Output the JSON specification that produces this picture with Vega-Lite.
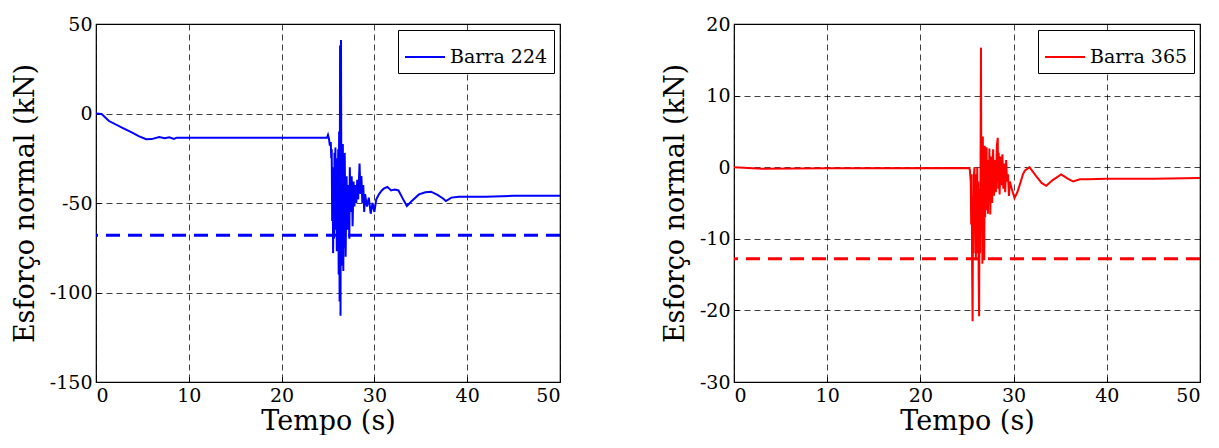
{
  "$schema": "https://vega.github.io/schema/vega-lite/v6.json",
  "background": "white",
  "padding": {"left": 10, "top": 14, "right": 0, "bottom": 0},
  "spacing": 97,
  "config": {
    "font": "DejaVu Serif",
    "locale": {"number": {"decimal": ".", "thousands": ",", "grouping": [3], "currency": ["$", ""], "minus": "-"}},
    "view": {"stroke": "black", "strokeWidth": 1.2},
    "axis": {
      "domain": false,
      "grid": true,
      "gridColor": "black",
      "gridDash": [6, 4],
      "gridOpacity": 0.75,
      "gridWidth": 1,
      "tickColor": "black",
      "tickSize": -5,
      "labelPadding": 9,
      "labelFont": "DejaVu Serif",
      "labelFontSize": 19,
      "labelColor": "black",
      "titleFont": "DejaVu Serif",
      "titleFontSize": 27,
      "titleFontWeight": "normal",
      "titleColor": "black"
    },
    "axisX": {"titlePadding": 3},
    "axisY": {"titlePadding": 10},
    "legend": {
      "orient": "top-right",
      "offset": 6,
      "strokeColor": "black",
      "fillColor": "white",
      "padding": 6,
      "cornerRadius": 0,
      "labelFont": "DejaVu Serif",
      "labelFontSize": 19,
      "labelColor": "black",
      "symbolType": "stroke",
      "symbolStrokeWidth": 2,
      "symbolSize": 1600,
      "title": null
    }
  },
  "datasets": {
    "blue": [
      {"t": 0, "v": 0, "s": "Barra 224"}, {"t": 0.6, "v": -0.3, "s": "Barra 224"}, {"t": 1.4, "v": -4.2, "s": "Barra 224"},
      {"t": 2.8, "v": -7.9, "s": "Barra 224"}, {"t": 3.9, "v": -10.7, "s": "Barra 224"}, {"t": 4.6, "v": -12.6, "s": "Barra 224"},
      {"t": 5.4, "v": -14.4, "s": "Barra 224"}, {"t": 6.0, "v": -14.3, "s": "Barra 224"}, {"t": 6.8, "v": -13.1, "s": "Barra 224"},
      {"t": 7.4, "v": -13.8, "s": "Barra 224"}, {"t": 7.9, "v": -13.3, "s": "Barra 224"}, {"t": 8.4, "v": -14.2, "s": "Barra 224"},
      {"t": 8.7, "v": -13.5, "s": "Barra 224"}, {"t": 24.9, "v": -13.5, "s": "Barra 224"}, {"t": 25.0, "v": -12, "s": "Barra 224"},
      {"t": 25.1, "v": -14, "s": "Barra 224"}, {"t": 25.2, "v": -18, "s": "Barra 224"}, {"t": 25.3, "v": -16, "s": "Barra 224"},
      {"t": 25.35, "v": -25, "s": "Barra 224"}, {"t": 25.4, "v": -20, "s": "Barra 224"}, {"t": 25.45, "v": -60, "s": "Barra 224"},
      {"t": 25.5, "v": -30, "s": "Barra 224"}, {"t": 25.55, "v": -78, "s": "Barra 224"}, {"t": 25.6, "v": -45, "s": "Barra 224"},
      {"t": 25.65, "v": -70, "s": "Barra 224"}, {"t": 25.7, "v": -22, "s": "Barra 224"}, {"t": 25.75, "v": -55, "s": "Barra 224"},
      {"t": 25.8, "v": -19, "s": "Barra 224"}, {"t": 25.85, "v": -65, "s": "Barra 224"}, {"t": 25.9, "v": -40, "s": "Barra 224"},
      {"t": 25.95, "v": -77, "s": "Barra 224"}, {"t": 26.0, "v": -25, "s": "Barra 224"}, {"t": 26.05, "v": -70, "s": "Barra 224"},
      {"t": 26.1, "v": -20, "s": "Barra 224"}, {"t": 26.15, "v": -90, "s": "Barra 224"}, {"t": 26.2, "v": -10, "s": "Barra 224"},
      {"t": 26.25, "v": -105, "s": "Barra 224"}, {"t": 26.3, "v": 38, "s": "Barra 224"}, {"t": 26.35, "v": -113, "s": "Barra 224"},
      {"t": 26.4, "v": 41, "s": "Barra 224"}, {"t": 26.45, "v": -60, "s": "Barra 224"}, {"t": 26.5, "v": -20, "s": "Barra 224"},
      {"t": 26.55, "v": -85, "s": "Barra 224"}, {"t": 26.6, "v": -17, "s": "Barra 224"}, {"t": 26.65, "v": -88, "s": "Barra 224"},
      {"t": 26.7, "v": -30, "s": "Barra 224"}, {"t": 26.75, "v": -75, "s": "Barra 224"}, {"t": 26.8, "v": -22, "s": "Barra 224"},
      {"t": 26.9, "v": -80, "s": "Barra 224"}, {"t": 27.0, "v": -35, "s": "Barra 224"}, {"t": 27.1, "v": -65, "s": "Barra 224"},
      {"t": 27.2, "v": -40, "s": "Barra 224"}, {"t": 27.3, "v": -70, "s": "Barra 224"}, {"t": 27.35, "v": -30, "s": "Barra 224"},
      {"t": 27.45, "v": -55, "s": "Barra 224"}, {"t": 27.55, "v": -35, "s": "Barra 224"}, {"t": 27.65, "v": -63, "s": "Barra 224"},
      {"t": 27.75, "v": -38, "s": "Barra 224"}, {"t": 27.85, "v": -52, "s": "Barra 224"}, {"t": 27.95, "v": -40, "s": "Barra 224"},
      {"t": 28.05, "v": -50, "s": "Barra 224"}, {"t": 28.15, "v": -37, "s": "Barra 224"}, {"t": 28.25, "v": -48, "s": "Barra 224"},
      {"t": 28.4, "v": -28, "s": "Barra 224"}, {"t": 28.5, "v": -45, "s": "Barra 224"}, {"t": 28.6, "v": -35, "s": "Barra 224"},
      {"t": 28.7, "v": -50, "s": "Barra 224"}, {"t": 28.8, "v": -40, "s": "Barra 224"}, {"t": 28.9, "v": -55, "s": "Barra 224"},
      {"t": 29.0, "v": -45, "s": "Barra 224"}, {"t": 29.2, "v": -52, "s": "Barra 224"}, {"t": 29.4, "v": -47, "s": "Barra 224"},
      {"t": 29.6, "v": -56, "s": "Barra 224"}, {"t": 29.8, "v": -50, "s": "Barra 224"}, {"t": 30.0, "v": -55, "s": "Barra 224"},
      {"t": 30.2, "v": -48, "s": "Barra 224"}, {"t": 30.5, "v": -45, "s": "Barra 224"}, {"t": 30.8, "v": -43, "s": "Barra 224"},
      {"t": 31.0, "v": -42, "s": "Barra 224"}, {"t": 31.4, "v": -41, "s": "Barra 224"}, {"t": 31.8, "v": -43, "s": "Barra 224"},
      {"t": 32.2, "v": -42.5, "s": "Barra 224"}, {"t": 32.6, "v": -43, "s": "Barra 224"}, {"t": 33.0, "v": -47, "s": "Barra 224"},
      {"t": 33.5, "v": -51.7, "s": "Barra 224"}, {"t": 34.0, "v": -49, "s": "Barra 224"}, {"t": 34.8, "v": -45.2, "s": "Barra 224"},
      {"t": 35.5, "v": -44, "s": "Barra 224"}, {"t": 36.1, "v": -43.7, "s": "Barra 224"}, {"t": 36.8, "v": -45.5, "s": "Barra 224"},
      {"t": 37.4, "v": -47.5, "s": "Barra 224"}, {"t": 37.7, "v": -48.9, "s": "Barra 224"}, {"t": 38.3, "v": -47, "s": "Barra 224"},
      {"t": 39.1, "v": -46.5, "s": "Barra 224"}, {"t": 40, "v": -46.5, "s": "Barra 224"}, {"t": 42, "v": -46.5, "s": "Barra 224"},
      {"t": 45, "v": -46, "s": "Barra 224"}, {"t": 48, "v": -46, "s": "Barra 224"}, {"t": 50, "v": -46, "s": "Barra 224"}
    ],
    "red": [
      {"t": 0, "v": 0, "s": "Barra 365"}, {"t": 3, "v": -0.2, "s": "Barra 365"}, {"t": 10, "v": -0.15, "s": "Barra 365"},
      {"t": 25.2, "v": -0.1, "s": "Barra 365"}, {"t": 25.3, "v": -0.3, "s": "Barra 365"}, {"t": 25.4, "v": -2, "s": "Barra 365"},
      {"t": 25.45, "v": -8, "s": "Barra 365"}, {"t": 25.5, "v": -1, "s": "Barra 365"}, {"t": 25.55, "v": -14, "s": "Barra 365"},
      {"t": 25.6, "v": -21.5, "s": "Barra 365"}, {"t": 25.65, "v": -4, "s": "Barra 365"}, {"t": 25.7, "v": -12, "s": "Barra 365"},
      {"t": 25.75, "v": -1, "s": "Barra 365"}, {"t": 25.8, "v": 0, "s": "Barra 365"}, {"t": 25.85, "v": -9, "s": "Barra 365"},
      {"t": 25.9, "v": -2, "s": "Barra 365"}, {"t": 25.95, "v": -13, "s": "Barra 365"}, {"t": 26.0, "v": -1, "s": "Barra 365"},
      {"t": 26.05, "v": -10, "s": "Barra 365"}, {"t": 26.1, "v": 0, "s": "Barra 365"}, {"t": 26.15, "v": -12, "s": "Barra 365"},
      {"t": 26.2, "v": -2, "s": "Barra 365"}, {"t": 26.25, "v": -15, "s": "Barra 365"}, {"t": 26.3, "v": -20.8, "s": "Barra 365"},
      {"t": 26.35, "v": -3, "s": "Barra 365"}, {"t": 26.4, "v": -12, "s": "Barra 365"}, {"t": 26.45, "v": -1, "s": "Barra 365"},
      {"t": 26.5, "v": 16.7, "s": "Barra 365"}, {"t": 26.55, "v": -8, "s": "Barra 365"}, {"t": 26.6, "v": -1, "s": "Barra 365"},
      {"t": 26.65, "v": -13.5, "s": "Barra 365"}, {"t": 26.7, "v": 4.3, "s": "Barra 365"}, {"t": 26.75, "v": -10, "s": "Barra 365"},
      {"t": 26.8, "v": 1, "s": "Barra 365"}, {"t": 26.85, "v": -13, "s": "Barra 365"}, {"t": 26.9, "v": 3, "s": "Barra 365"},
      {"t": 26.95, "v": -7, "s": "Barra 365"}, {"t": 27.0, "v": 1.5, "s": "Barra 365"}, {"t": 27.05, "v": -6, "s": "Barra 365"},
      {"t": 27.1, "v": 2.8, "s": "Barra 365"}, {"t": 27.15, "v": -5, "s": "Barra 365"}, {"t": 27.2, "v": 1, "s": "Barra 365"},
      {"t": 27.25, "v": -6.5, "s": "Barra 365"}, {"t": 27.3, "v": 0.5, "s": "Barra 365"}, {"t": 27.35, "v": -4.5, "s": "Barra 365"},
      {"t": 27.4, "v": 2.6, "s": "Barra 365"}, {"t": 27.5, "v": -6.6, "s": "Barra 365"}, {"t": 27.6, "v": 1.5, "s": "Barra 365"},
      {"t": 27.7, "v": -5, "s": "Barra 365"}, {"t": 27.8, "v": 2.5, "s": "Barra 365"}, {"t": 27.9, "v": -4, "s": "Barra 365"},
      {"t": 28.0, "v": 1, "s": "Barra 365"}, {"t": 28.1, "v": -3.5, "s": "Barra 365"}, {"t": 28.2, "v": 3, "s": "Barra 365"},
      {"t": 28.3, "v": 4.1, "s": "Barra 365"}, {"t": 28.35, "v": -3, "s": "Barra 365"}, {"t": 28.4, "v": 2, "s": "Barra 365"},
      {"t": 28.5, "v": -3.8, "s": "Barra 365"}, {"t": 28.6, "v": 1.5, "s": "Barra 365"}, {"t": 28.7, "v": -2.5, "s": "Barra 365"},
      {"t": 28.8, "v": 1.8, "s": "Barra 365"}, {"t": 28.9, "v": -3, "s": "Barra 365"}, {"t": 29.0, "v": 0.5, "s": "Barra 365"},
      {"t": 29.1, "v": -3.5, "s": "Barra 365"}, {"t": 29.2, "v": 1, "s": "Barra 365"}, {"t": 29.3, "v": -2, "s": "Barra 365"},
      {"t": 29.4, "v": -1, "s": "Barra 365"}, {"t": 29.5, "v": -4, "s": "Barra 365"}, {"t": 29.6, "v": -2, "s": "Barra 365"},
      {"t": 29.8, "v": -3, "s": "Barra 365"}, {"t": 30.1, "v": -4.3, "s": "Barra 365"}, {"t": 30.4, "v": -3.5, "s": "Barra 365"},
      {"t": 30.65, "v": -2.5, "s": "Barra 365"}, {"t": 31.0, "v": -1, "s": "Barra 365"}, {"t": 31.2, "v": -0.5, "s": "Barra 365"},
      {"t": 31.7, "v": 0, "s": "Barra 365"}, {"t": 32.0, "v": -0.5, "s": "Barra 365"}, {"t": 32.4, "v": -1.2, "s": "Barra 365"},
      {"t": 33.0, "v": -2.2, "s": "Barra 365"}, {"t": 33.5, "v": -2.6, "s": "Barra 365"}, {"t": 34.2, "v": -1.8, "s": "Barra 365"},
      {"t": 35.1, "v": -1, "s": "Barra 365"}, {"t": 35.8, "v": -1.6, "s": "Barra 365"}, {"t": 36.4, "v": -2, "s": "Barra 365"},
      {"t": 37.1, "v": -1.7, "s": "Barra 365"}, {"t": 38, "v": -1.7, "s": "Barra 365"}, {"t": 40, "v": -1.6, "s": "Barra 365"},
      {"t": 45, "v": -1.6, "s": "Barra 365"}, {"t": 50, "v": -1.5, "s": "Barra 365"}
    ]
  },
  "hconcat": [
    {
      "width": 464,
      "height": 358,
      "layer": [
        {
          "data": {"name": "blue"},
          "mark": {"type": "line", "strokeWidth": 2, "clip": true},
          "encoding": {
            "x": {"field": "t", "type": "quantitative", "title": "Tempo (s)", "scale": {"domain": [0, 50], "nice": false, "zero": false}, "axis": {"values": [0, 10, 20, 30, 40, 50]}},
            "y": {"field": "v", "type": "quantitative", "title": "Esforço normal (kN)", "scale": {"domain": [-150, 50], "nice": false, "zero": false}, "axis": {"values": [-150, -100, -50, 0, 50]}},
            "color": {"field": "s", "type": "nominal", "scale": {"domain": ["Barra 224"], "range": ["#0000ff"]}, "legend": {"title": null}}
          }
        },
        {
          "data": {"values": [{"limite": -68}]},
          "mark": {"type": "rule", "color": "#0000ff", "strokeWidth": 3, "strokeDash": [14, 8]},
          "encoding": {"y": {"field": "limite", "type": "quantitative"}}
        }
      ]
    },
    {
      "width": 466,
      "height": 358,
      "layer": [
        {
          "data": {"name": "red"},
          "mark": {"type": "line", "strokeWidth": 2, "clip": true},
          "encoding": {
            "x": {"field": "t", "type": "quantitative", "title": "Tempo (s)", "scale": {"domain": [0, 50], "nice": false, "zero": false}, "axis": {"values": [0, 10, 20, 30, 40, 50]}},
            "y": {"field": "v", "type": "quantitative", "title": "Esforço normal (kN)", "scale": {"domain": [-30, 20], "nice": false, "zero": false}, "axis": {"values": [-30, -20, -10, 0, 10, 20]}},
            "color": {"field": "s", "type": "nominal", "scale": {"domain": ["Barra 365"], "range": ["#ff0000"]}, "legend": {"title": null}}
          }
        },
        {
          "data": {"values": [{"limite": -12.8}]},
          "mark": {"type": "rule", "color": "#ff0000", "strokeWidth": 3, "strokeDash": [14, 8]},
          "encoding": {"y": {"field": "limite", "type": "quantitative"}}
        }
      ]
    }
  ],
  "resolve": {"scale": {"color": "independent"}, "legend": {"color": "independent"}}
}
